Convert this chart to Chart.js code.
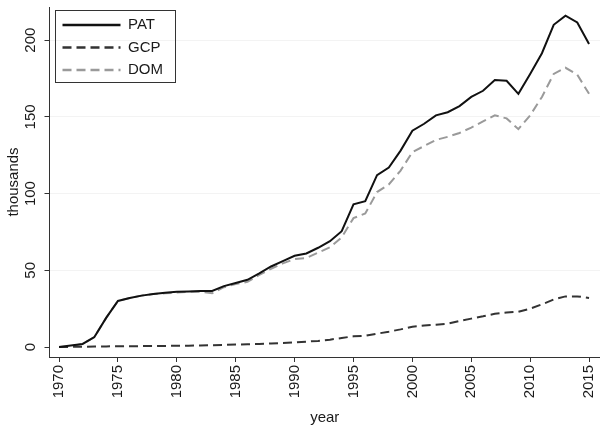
<!DOCTYPE html>
<html>
<head>
<meta charset="utf-8">
<script src="https://cdn.jsdelivr.net/npm/chart.js@4.4.1/dist/chart.umd.min.js"></script>
<style>
html,body{margin:0;padding:0;background:#fff;}
#wrap{width:600px;height:431px;}
</style>
</head>
<body>
<div id="wrap"><canvas id="c" width="600" height="431"></canvas></div>
<script>
// ---- data ----
const years = [
  1970,1971,1972,1973,1974,1975,1976,1977,1978,1979,
  1980,1981,1982,1983,1984,1985,1986,1987,1988,1989,
  1990,1991,1992,1993,1994,1995,1996,1997,1998,1999,
  2000,2001,2002,2003,2004,2005,2006,2007,2008,2009,
  2010,2011,2012,2013,2014,2015
];
const PAT = [
  0, 1, 2, 6.5, 19, 30, 32, 33.5, 34.5, 35.4,
  36, 36.2, 36.5, 36.5, 39.7, 41.7, 43.8, 48, 52.5, 56,
  59.5, 61, 64.7, 69, 75.5, 93, 95, 112, 117, 128,
  141, 145.5, 151, 153, 157, 163, 167, 174, 173.5, 165,
  178, 191.5, 210, 216, 211.5, 197.5
];
const GCP = [
  0, 0.1, 0.2, 0.3, 0.4, 0.5, 0.5, 0.6, 0.6, 0.7,
  0.8, 0.9, 1.0, 1.2, 1.4, 1.6, 1.8, 2.0, 2.3, 2.7,
  3.0, 3.5, 4.0, 4.8, 5.9, 7.0, 7.3, 8.7, 10.0, 11.5,
  13.2, 14.0, 14.5, 15.2, 17.0, 18.5, 20.0, 21.7, 22.5, 23.0,
  25.0, 27.8, 31.0, 33.0, 33.0, 32.0
];
const DOM = [
  0, 0.5, 2, 6.5, 19, 30, 32, 33.5, 34.5, 35,
  35.5, 36, 36, 35, 39, 41, 42.5, 47, 51, 54.5,
  57.3, 58, 61.5, 65, 71.5, 84, 87, 101, 106, 115,
  127, 131, 135, 137, 139.5, 143, 147, 151, 149, 142,
  151, 163, 178, 182, 177.5, 165
];
const seriesNames = ['PAT', 'GCP', 'DOM'];
const yTickStep = 50;
const xTickStep = 5;

// ---- chart ----
const FONT = "'Liberation Sans', Arial, Helvetica, sans-serif";
const TEXT = '#1a1a1a';
const AXIS = '#333333';
Chart.defaults.font.family = FONT;
Chart.defaults.font.size = 15;
Chart.defaults.color = TEXT;

const toXY = arr => years.map((yr, i) => ({x: yr, y: arr[i]}));

const legendBox = {
  id: 'legendBox',
  afterLayout(chart) {
    const lg = chart.legend;
    lg.left = 55; lg.top = 10; lg.right = 176; lg.width = 121;
  },
  afterDraw(chart) {
    const ctx = chart.ctx;
    ctx.save();
    ctx.strokeStyle = AXIS;
    ctx.lineWidth = 1;
    ctx.strokeRect(55.5, 10.5, 120, 72);
    ctx.restore();
  }
};

new Chart(document.getElementById('c'), {
  type: 'line',
  data: {
    datasets: [
      {label: seriesNames[0], data: toXY(PAT), borderColor: '#111111', borderWidth: 2, borderDash: [], pointRadius: 0, tension: 0, fill: false},
      {label: seriesNames[1], data: toXY(GCP), borderColor: '#333333', borderWidth: 2, borderDash: [9, 5], pointRadius: 0, tension: 0, fill: false},
      {label: seriesNames[2], data: toXY(DOM), borderColor: '#9a9a9a', borderWidth: 2, borderDash: [9, 5], pointRadius: 0, tension: 0, fill: false}
    ]
  },
  options: {
    responsive: false,
    animation: false,
    devicePixelRatio: 1,
    layout: {padding: {top: 7, right: 0, bottom: 0, left: 0}},
    plugins: {
      tooltip: {enabled: false},
      legend: {
        position: 'chartArea',
        align: 'start',
        labels: {
          usePointStyle: true,
          pointStyle: 'line',
          pointStyleWidth: 58,
          padding: 7.5,
          color: TEXT,
          font: {family: FONT, size: 15},
          generateLabels(chart) {
            const items = Chart.defaults.plugins.legend.labels.generateLabels(chart);
            items.forEach((it, i) => {
              const ds = chart.data.datasets[i];
              it.lineDash = ds.borderDash;
              it.lineWidth = ds.borderWidth + 0.3;
              it.strokeStyle = ds.borderColor;
              it.fillStyle = ds.borderColor;
              it.pointStyle = 'line';
            });
            return items;
          }
        }
      }
    },
    scales: {
      x: {
        type: 'linear',
        min: 1969.19,
        max: 2015.93,
        afterFit(s) { s.height = 74; s.paddingLeft = 0; s.paddingRight = 0; },
        ticks: {
          stepSize: xTickStep,
          includeBounds: false,
          autoSkip: false,
          minRotation: 90,
          maxRotation: 90,
          padding: 3,
          color: TEXT,
          font: {family: FONT, size: 15},
          callback: v => String(Math.round(v))
        },
        grid: {drawOnChartArea: false, tickLength: 5, tickColor: AXIS, lineWidth: 1},
        border: {color: AXIS, width: 1},
        title: {display: true, text: 'year', color: TEXT, font: {family: FONT, size: 15}, padding: {top: 0, bottom: 4}}
      },
      y: {
        type: 'linear',
        min: -6.5,
        max: 221.6,
        afterFit(s) { s.width = 49.5; s.paddingTop = 0; s.paddingBottom = 0; },
        ticks: {
          stepSize: yTickStep,
          includeBounds: false,
          minRotation: 90,
          maxRotation: 90,
          crossAlign: 'center',
          padding: 1,
          color: TEXT,
          font: {family: FONT, size: 15}
        },
        grid: {
          color: c => (c.tick && c.tick.value > 0) ? '#f3f3f3' : 'rgba(0,0,0,0)',
          tickColor: AXIS,
          tickLength: 5,
          lineWidth: 1
        },
        border: {color: AXIS, width: 1},
        title: {display: true, text: 'thousands', color: TEXT, font: {family: FONT, size: 15}, padding: {top: 4.5, bottom: 0}}
      }
    }
  },
  plugins: [legendBox]
});
</script>
</body>
</html>
